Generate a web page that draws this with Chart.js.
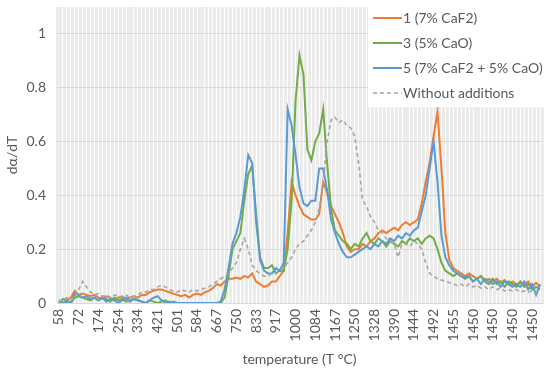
<!DOCTYPE html>
<html>
<head>
<meta charset="utf-8">
<script src="https://cdn.jsdelivr.net/npm/chart.js@4.4.1/dist/chart.umd.min.js"></script>
<style>
    html, body { margin: 0; padding: 0; background: #fff; }
    #wrap { width: 550px; height: 370px; }
</style>
</head>
<body>
<div id="wrap"><canvas id="dtaChart" width="550" height="370"></canvas></div>
<script>
// Подписи оси X (каждая 5-я точка)
const tempLabels = ["58", "72", "174", "254", "334", "421", "501", "584", "667", "750", "833", "917",
    "1000", "1084", "1167", "1250", "1328", "1390", "1444", "1492", "1455", "1450", "1450", "1450", "1450"];
const labelStep = 5;
const pointCount = 123;

const seriesNames = ["1 (7% CaF2)", "3 (5% CaO)", "5 (7% CaF2 + 5% CaO)", "Without additions"];

// 1 (7% CaF2)
const sample1 = [
    0.01, 0.0, 0.01, 0.02, 0.045, 0.03, 0.035, 0.03, 0.025, 0.03,
    0.02, 0.015, 0.025, 0.02, 0.01, 0.02, 0.025, 0.015, 0.02, 0.025,
    0.02, 0.03, 0.03, 0.04, 0.045, 0.05, 0.05, 0.045, 0.04, 0.035,
    0.03, 0.025, 0.03, 0.02, 0.03, 0.035, 0.03, 0.04, 0.045, 0.055,
    0.07, 0.065, 0.08, 0.09, 0.09, 0.095, 0.09, 0.1, 0.095, 0.11,
    0.08, 0.07, 0.06, 0.065, 0.08, 0.08, 0.1, 0.12, 0.26, 0.45,
    0.4, 0.36, 0.33, 0.32, 0.31, 0.31, 0.33, 0.45, 0.41, 0.36,
    0.33, 0.3, 0.26, 0.21, 0.19, 0.2, 0.2, 0.22, 0.21, 0.23,
    0.24, 0.26, 0.27, 0.26, 0.27, 0.28, 0.27, 0.29, 0.3, 0.29,
    0.3, 0.31, 0.37, 0.45, 0.52, 0.62, 0.71, 0.5, 0.26, 0.16,
    0.13, 0.12, 0.11, 0.1, 0.11, 0.1, 0.09, 0.1, 0.085, 0.09,
    0.08, 0.09, 0.075, 0.085, 0.07, 0.08, 0.07, 0.075, 0.065, 0.08,
    0.06, 0.075, 0.06
];

// 3 (5% CaO)
const sample3 = [
    0.0, 0.015, 0.01, 0.0, 0.02, 0.025, 0.02, 0.015, 0.01, 0.02,
    0.01, 0.02, 0.015, 0.005, 0.02, 0.01, 0.015, 0.005, 0.01, 0.015,
    0.01, 0.005, 0.0, 0.01, 0.005, 0.0, 0.005, 0.01, 0.0, 0.005,
    0.0, 0.0, 0.0, 0.0, 0.0, 0.0, 0.0, 0.0, 0.0, 0.0,
    0.0, 0.0, 0.02, 0.1, 0.2, 0.23, 0.26, 0.38, 0.48, 0.51,
    0.33, 0.17, 0.13, 0.13, 0.14, 0.11, 0.12, 0.12, 0.2, 0.38,
    0.75, 0.92, 0.85, 0.57, 0.53, 0.6, 0.63, 0.72, 0.52, 0.35,
    0.27, 0.25, 0.23, 0.22, 0.2, 0.22, 0.21, 0.24, 0.26, 0.23,
    0.22, 0.24, 0.23, 0.21, 0.23, 0.22, 0.21, 0.23, 0.22, 0.24,
    0.23, 0.24, 0.22, 0.24, 0.25, 0.24, 0.2, 0.15, 0.12, 0.11,
    0.1, 0.11, 0.1, 0.09, 0.1, 0.08, 0.09, 0.1, 0.08, 0.07,
    0.09, 0.07, 0.08, 0.06, 0.08, 0.07, 0.06, 0.08, 0.06, 0.07,
    0.05, 0.06, 0.05
];

// 5 (7% CaF2 + 5% CaO)
const sample5 = [
    0.01, 0.0, 0.005, 0.0, 0.035, 0.03, 0.02, 0.025, 0.015, 0.02,
    0.01, 0.02, 0.005, 0.015, 0.01, 0.0, 0.01, 0.02, 0.005, 0.015,
    0.01, 0.005, 0.0, 0.01, 0.02, 0.025, 0.01, 0.0, 0.005, 0.0,
    0.0, 0.0, 0.0, 0.0, 0.0, 0.0, 0.0, 0.0, 0.0, 0.0,
    0.0, 0.005, 0.05, 0.13, 0.22, 0.26, 0.32, 0.42, 0.55, 0.52,
    0.3, 0.16, 0.12, 0.11, 0.11, 0.13, 0.12, 0.15, 0.72, 0.66,
    0.55, 0.43, 0.37, 0.36, 0.38, 0.38, 0.5, 0.5, 0.42, 0.31,
    0.26, 0.22, 0.19, 0.17, 0.17, 0.18, 0.19, 0.2, 0.21, 0.2,
    0.22, 0.21, 0.23, 0.22, 0.24, 0.23, 0.25, 0.24, 0.26, 0.25,
    0.27, 0.28, 0.34, 0.4, 0.5, 0.6, 0.45, 0.25, 0.17, 0.14,
    0.12, 0.11, 0.1, 0.095, 0.1, 0.08, 0.09, 0.07, 0.09, 0.08,
    0.07, 0.08, 0.06, 0.08, 0.07, 0.06, 0.07, 0.06, 0.08, 0.05,
    0.07, 0.03, 0.07
];

// Without additions
const sampleBase = [
    0.01, 0.005, 0.02, 0.01, 0.02, 0.05, 0.08, 0.06, 0.04, 0.03,
    0.035, 0.025, 0.03, 0.02, 0.03, 0.025, 0.02, 0.03, 0.02, 0.025,
    0.03, 0.04, 0.04, 0.05, 0.05, 0.06, 0.065, 0.06, 0.05, 0.045,
    0.04, 0.05, 0.045, 0.04, 0.05, 0.045, 0.05, 0.055, 0.06, 0.07,
    0.08, 0.09, 0.1, 0.11, 0.13, 0.15, 0.2, 0.24, 0.2, 0.14,
    0.12, 0.11, 0.1, 0.1, 0.11, 0.11, 0.12, 0.13, 0.15, 0.17,
    0.2, 0.22, 0.23, 0.25, 0.27, 0.3, 0.35, 0.45, 0.6, 0.68,
    0.69, 0.67, 0.68, 0.66, 0.65, 0.62, 0.52, 0.38, 0.36, 0.32,
    0.3, 0.27, 0.26, 0.24, 0.23, 0.22, 0.17, 0.22, 0.22, 0.21,
    0.23, 0.22, 0.2, 0.15, 0.11, 0.1, 0.09, 0.085, 0.08, 0.075,
    0.07, 0.065, 0.07, 0.06, 0.07, 0.06, 0.065, 0.055, 0.06, 0.05,
    0.06, 0.05, 0.055, 0.045, 0.05, 0.045, 0.05, 0.04, 0.045, 0.04,
    0.045, 0.035, 0.04
];

const colors = ["#ED7D31", "#70AD47", "#5B9BD5", "#A5A5A5"];
const textColor = "#595959";
const fontName = "Lato, 'Open Sans', sans-serif";

// Категории: подпись только у каждой 5-й точки
const categories = [];
for (let i = 0; i < pointCount; i++) {
    categories.push(i % labelStep === 0 ? tempLabels[i / labelStep] : "");
}

// Легенда в правом верхнем углу на белом фоне
const boxLegend = {
    id: 'boxLegend',
    afterDraw(chart) {
        const ctx = chart.ctx;
        const area = chart.chartArea;
        const x0 = area.right - 174;
        ctx.save();
        ctx.fillStyle = '#ffffff';
        ctx.fillRect(x0, 0, chart.width - x0, 107);
        ctx.font = "14px " + fontName;
        ctx.textBaseline = 'middle';
        chart.data.datasets.forEach((ds, i) => {
            const y = 18 + i * 25;
            ctx.beginPath();
            ctx.strokeStyle = ds.borderColor;
            ctx.lineWidth = ds.borderWidth;
            ctx.setLineDash(ds.borderDash || []);
            ctx.moveTo(x0 + 5, y);
            ctx.lineTo(x0 + 34, y);
            ctx.stroke();
            ctx.setLineDash([]);
            ctx.fillStyle = textColor;
            ctx.fillText(ds.label, x0 + 35, y);
        });
        ctx.restore();
    }
};

function makeDataset(name, data, color, order, dash) {
    return {
        label: name,
        data: data,
        borderColor: color,
        backgroundColor: color,
        borderWidth: dash ? 1.6 : 2,
        borderDash: dash || [],
        pointRadius: 0,
        tension: 0,
        fill: false,
        order: order
    };
}

const ctx = document.getElementById('dtaChart').getContext('2d');
new Chart(ctx, {
    type: 'line',
    data: {
        labels: categories,
        datasets: [
            makeDataset(seriesNames[0], sample1, colors[0], 3),
            makeDataset(seriesNames[1], sample3, colors[1], 2),
            makeDataset(seriesNames[2], sample5, colors[2], 1),
            makeDataset(seriesNames[3], sampleBase, colors[3], 0, [4, 3])
        ]
    },
    plugins: [boxLegend],
    options: {
        responsive: false,
        animation: false,
        layout: { autoPadding: false, padding: { top: 7, right: 8, left: 0, bottom: 0 } },
        plugins: {
            legend: { display: false },
            tooltip: { enabled: false }
        },
        scales: {
            x: {
                type: 'category',
                offset: true,
                grid: {
                    color: '#ebebeb',
                    lineWidth: 2.9,
                    offset: true,
                    drawTicks: false
                },
                border: { display: true, color: '#d9d9d9', width: 1 },
                ticks: {
                    autoSkip: false,
                    maxRotation: 90,
                    minRotation: 90,
                    padding: 6,
                    color: textColor,
                    font: { family: fontName, size: 14 }
                },
                title: {
                    display: true,
                    text: 'temperature (T °C)',
                    color: textColor,
                    font: { family: fontName, size: 14 },
                    padding: { top: 0, bottom: 2 }
                },
                afterFit(scale) {
                    scale.height = 67;
                    // без автоматических отступов по краям
                    scale.paddingLeft = 0;
                    scale.paddingRight = 0;
                }
            },
            y: {
                min: 0,
                max: 1.1,
                grid: { color: '#d9d9d9', lineWidth: 1, drawTicks: false },
                border: { display: false },
                ticks: {
                    stepSize: 0.2,
                    padding: 11,
                    color: textColor,
                    font: { family: fontName, size: 14 },
                    callback: (value) => String(Math.round(value * 10) / 10)
                },
                afterBuildTicks(scale) {
                    scale.ticks = scale.ticks.filter(t => t.value <= 1.0001);
                },
                title: {
                    display: true,
                    text: 'dα/dT',
                    color: textColor,
                    font: { family: fontName, size: 14 },
                    padding: { top: 4, bottom: 0 }
                },
                afterFit(scale) {
                    scale.width = 57;
                    scale.paddingTop = 0;
                    scale.paddingBottom = 0;
                }
            }
        }
    }
});
</script>
</body>
</html>
